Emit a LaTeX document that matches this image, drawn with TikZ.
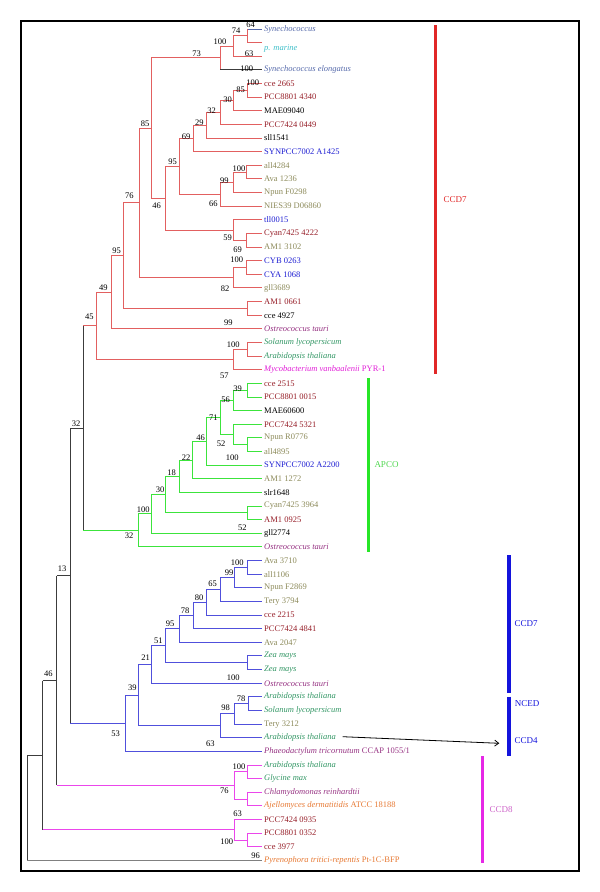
\documentclass[tikz,border=0pt]{standalone}
\usepackage{fontspec}
\setmainfont{Liberation Serif}
\usetikzlibrary{arrows.meta}
\definecolor{cRl}{RGB}{226,96,96}
\definecolor{cGl}{RGB}{60,228,60}
\definecolor{cBl}{RGB}{80,80,220}
\definecolor{cMl}{RGB}{235,70,235}
\definecolor{cK}{RGB}{60,60,60}
\definecolor{cDR}{RGB}{150,30,40}
\definecolor{cOl}{RGB}{140,138,90}
\definecolor{cBt}{RGB}{30,30,210}
\definecolor{cSl}{RGB}{85,105,170}
\definecolor{cCy}{RGB}{60,190,200}
\definecolor{cPu}{RGB}{150,50,130}
\definecolor{cGt}{RGB}{50,150,100}
\definecolor{cMt}{RGB}{225,30,215}
\definecolor{cOr}{RGB}{230,120,50}
\definecolor{cRbar}{RGB}{225,40,40}
\definecolor{cGbar}{RGB}{40,230,40}
\definecolor{cGlab}{RGB}{80,215,80}
\definecolor{cBbar}{RGB}{20,20,220}
\definecolor{cMbar}{RGB}{230,40,230}
\definecolor{cMlab}{RGB}{205,100,200}
\begin{document}
\begin{tikzpicture}[x=1pt,y=-1pt,
  lf/.style={anchor=west,inner xsep=2pt,inner ysep=0pt,font=\fontsize{8.5}{10}\selectfont},
  bs/.style={inner sep=0pt,font=\fontsize{8.5}{10}\selectfont},
  grp/.style={inner sep=0pt,font=\fontsize{9}{10}\selectfont},
  rb/.style={draw=cRl,line width=1pt},
  gb/.style={draw=cGl,line width=1pt},
  bb/.style={draw=cBl,line width=1pt},
  mb/.style={draw=cMl,line width=1pt},
  kb/.style={draw=cK,line width=0.9pt}]
\useasboundingbox (0,0) rectangle (600,892);
\draw[black,line width=1.1pt] (21,21) rectangle (579,871);
% ---------- leaves ----------
\node[lf,text=cSl,font=\fontsize{8.5}{10}\selectfont\itshape] (syn) at (262,29) {Synechococcus};
\node[lf,text=cCy,font=\fontsize{8.5}{10}\selectfont\itshape] (pmar) at (262,48.7) {p. marine};
\node[lf,text=cSl,font=\fontsize{8.5}{10}\selectfont\itshape] (syne) at (262,69.89) {Synechococcus elongatus};
\coordinate (tA) at (262,42.63);
\coordinate (t63) at (262,56.26);
\node[lf,text=cDR] (cce2665) at (262,83.52) {cce 2665};
\node[lf,text=cDR] (pcc4340) at (262,97.15) {PCC8801 4340};
\node[lf,text=black] (mae09040) at (262,110.78) {MAE09040};
\node[lf,text=cDR] (pcc0449) at (262,124.41) {PCC7424 0449};
\node[lf,text=black] (sll1541) at (262,138.04) {sll1541};
\node[lf,text=cBt] (syn1425) at (262,151.67) {SYNPCC7002 A1425};
\node[lf,text=cOl] (all4284) at (262,165.3) {all4284};
\node[lf,text=cOl] (ava1236) at (262,178.93) {Ava 1236};
\node[lf,text=cOl] (npunF0298) at (262,192.56) {Npun F0298};
\node[lf,text=cOl] (nies) at (262,206.19) {NIES39 D06860};
\node[lf,text=cBt] (tll0015) at (262,219.82) {tll0015};
\node[lf,text=cDR] (cyan4222) at (262,233.45) {Cyan7425 4222};
\node[lf,text=cOl] (am3102) at (262,247.08) {AM1 3102};
\node[lf,text=cBt] (cyb) at (262,260.71) {CYB 0263};
\node[lf,text=cBt] (cya) at (262,274.34) {CYA 1068};
\node[lf,text=cOl] (gll3689) at (262,287.97) {gll3689};
\node[lf,text=cDR] (am0661) at (262,301.6) {AM1 0661};
\node[lf,text=black] (cce4927) at (262,315.23) {cce 4927};
\node[lf,text=cPu] (ostA) at (262,328.86) {\itshape Ostreococcus tauri};
\node[lf,text=cGt] (solA) at (262,342.49) {\itshape Solanum lycopersicum};
\node[lf,text=cGt] (araA) at (262,356.12) {\itshape Arabidopsis thaliana};
\node[lf,text=cMt] (myco) at (262,369.75) {\textit{Mycobacterium vanbaalenii} PYR-1};
\node[lf,text=cDR] (cce2515) at (262,383.38) {cce 2515};
\node[lf,text=cDR] (pcc0015) at (262,397.01) {PCC8801 0015};
\node[lf,text=black] (mae60600) at (262,410.64) {MAE60600};
\node[lf,text=cDR] (pcc5321) at (262,424.27) {PCC7424 5321};
\node[lf,text=cOl] (npunR) at (262,437.9) {Npun R0776};
\node[lf,text=cOl] (all4895) at (262,451.53) {all4895};
\node[lf,text=cBt] (syn2200) at (262,465.16) {SYNPCC7002 A2200};
\node[lf,text=cOl] (am1272) at (262,478.79) {AM1 1272};
\node[lf,text=black] (slr1648) at (262,492.42) {slr1648};
\node[lf,text=cOl] (cyan3964) at (262,506.05) {Cyan7425 3964};
\node[lf,text=cDR] (am0925) at (262,519.68) {AM1 0925};
\node[lf,text=black] (gll2774) at (262,533.31) {gll2774};
\node[lf,text=cPu] (ostB) at (262,546.94) {\itshape Ostreococcus tauri};
\node[lf,text=cOl] (ava3710) at (262,560.57) {Ava 3710};
\node[lf,text=cOl] (all1106) at (262,574.2) {all1106};
\node[lf,text=cOl] (npunF2869) at (262,587.83) {Npun F2869};
\node[lf,text=cOl] (tery3794) at (262,601.46) {Tery 3794};
\node[lf,text=cDR] (cce2215) at (262,615.09) {cce 2215};
\node[lf,text=cDR] (pcc4841) at (262,628.72) {PCC7424 4841};
\node[lf,text=cOl] (ava2047) at (262,642.35) {Ava 2047};
\node[lf,text=cGt] (zea1) at (262,655.98) {\itshape Zea mays};
\node[lf,text=cGt] (zea2) at (262,669.61) {\itshape Zea mays};
\node[lf,text=cPu] (ostC) at (262,683.24) {\itshape Ostreococcus tauri};
\node[lf,text=cGt] (araB) at (262,696.87) {\itshape Arabidopsis thaliana};
\node[lf,text=cGt] (solB) at (262,710.5) {\itshape Solanum lycopersicum};
\node[lf,text=cOl] (tery3212) at (262,724.13) {Tery 3212};
\node[lf,text=cGt] (araC) at (262,737.76) {\itshape Arabidopsis thaliana};
\node[lf,text=cPu] (phaeo) at (262,751.39) {\textit{Phaeodactylum tricornutum} CCAP 1055/1};
\node[lf,text=cGt] (araD) at (262,765.02) {\itshape Arabidopsis thaliana};
\node[lf,text=cGt] (glycine) at (262,778.65) {\itshape Glycine max};
\node[lf,text=cPu] (chlamy) at (262,792.28) {\itshape Chlamydomonas reinhardtii};
\node[lf,text=cOr] (ajello) at (262,805.91) {\textit{Ajellomyces dermatitidis} ATCC 18188};
\node[lf,text=cDR] (pcc0935) at (262,819.54) {PCC7424 0935};
\node[lf,text=cDR] (pcc0352) at (262,833.17) {PCC8801 0352};
\node[lf,text=cDR] (cce3977) at (262,846.8) {cce 3977};
\node[lf,text=cOr] (pyreno) at (262,860.43) {\textit{Pyrenophora tritici-repentis} Pt-1C-BFP};
% ---------- internal nodes ----------
\coordinate (n64) at (247.7,35.82);
\coordinate (n74) at (233.7,46.04);
\coordinate (n100a) at (220,57.96);
\coordinate (n85b) at (247.7,90.34);
\coordinate (n30) at (233.7,100.56);
\coordinate (n32) at (220,112.48);
\coordinate (n29) at (206.7,125.26);
\coordinate (n69) at (193.3,138.47);
\coordinate (n100c) at (246.7,172.12);
\coordinate (n99) at (233.3,182.34);
\coordinate (n66) at (220,194.26);
\coordinate (n95) at (179.5,166.37);
\coordinate (nCy) at (246.7,240.27);
\coordinate (n59) at (233.3,230.04);
\coordinate (n46) at (165.7,198.2);
\coordinate (n73) at (151.7,128.09);
\coordinate (nCYB) at (246.7,267.53);
\coordinate (n82) at (233.3,277.75);
\coordinate (n85) at (139,202.92);
\coordinate (nAM) at (247.3,308.42);
\coordinate (n76) at (123.3,255.67);
\coordinate (n95b) at (111.7,292.26);
\coordinate (nSA) at (247.3,349.31);
\coordinate (n57) at (233.3,359.53);
\coordinate (n49) at (96.7,325.87);
\coordinate (n39) at (247.7,390.2);
\coordinate (n56) at (233.7,400.42);
\coordinate (nNA) at (247.7,444.72);
\coordinate (n52) at (233.7,434.49);
\coordinate (n71) at (220,417.46);
\coordinate (n46g) at (206.7,441.31);
\coordinate (n22) at (192.7,460.05);
\coordinate (n18) at (179,476.2);
\coordinate (nCA) at (247.7,512.87);
\coordinate (n30g) at (165,494.6);
\coordinate (n100g) at (151.7,513.95);
\coordinate (nAP) at (138.3,530.45);
\coordinate (n32top) at (83.3,428.2);
\coordinate (n100b3) at (247.3,567.39);
\coordinate (n99b) at (234,577.61);
\coordinate (n65) at (220,589.53);
\coordinate (n80) at (206.7,602.28);
\coordinate (n78) at (193.3,615.5);
\coordinate (n95b3) at (179,628.99);
\coordinate (nZea) at (247.3,662.8);
\coordinate (n51) at (165,645.89);
\coordinate (n21) at (151.7,664.57);
\coordinate (n78c) at (248.3,703.69);
\coordinate (n234) at (234,713.91);
\coordinate (n98) at (220,725.83);
\coordinate (n39b) at (138.3,695.23);
\coordinate (n53) at (125,723.31);
\coordinate (n13) at (70,575.77);
\coordinate (nAG) at (247.3,771.84);
\coordinate (nCA8) at (247.3,799.1);
\coordinate (n76c8) at (234,785.47);
\coordinate (nPC) at (247.3,839.99);
\coordinate (n63c8) at (234,829.76);
\coordinate (n46r) at (56.7,680.65);
\coordinate (nR2) at (42.7,755.21);
\coordinate (nroot) at (27,807.82);
% ---------- branches: CCD7 (red) ----------
\draw[rb] (n64) -- (n64 |- syn.west);
\draw[draw=cSl,line width=1pt] (n64 |- syn.west) -- (syn.west);
\draw[rb] (n100a) -- (n100a |- syne.west);
\draw[kb] (n100a |- syne.west) -- (syne.west);
\foreach \p/\c in {n64/tA,n74/n64,n74/t63,n100a/n74,
  n85b/cce2665.west,n85b/pcc4340.west,n30/n85b,n30/mae09040.west,
  n32/n30,n32/pcc0449.west,n29/n32,n29/sll1541.west,n69/n29,n69/syn1425.west,
  n100c/all4284.west,n100c/ava1236.west,n99/n100c,n99/npunF0298.west,
  n66/n99,n66/nies.west,n95/n69,n95/n66,
  nCy/cyan4222.west,nCy/am3102.west,n59/tll0015.west,n59/nCy,
  n46/n95,n46/n59,n73/n100a,n73/n46,
  nCYB/cyb.west,nCYB/cya.west,n82/nCYB,n82/gll3689.west,
  n85/n73,n85/n82,nAM/am0661.west,nAM/cce4927.west,n76/n85,n76/nAM,
  n95b/n76,n95b/ostA.west,nSA/solA.west,nSA/araA.west,n57/nSA,n57/myco.west,
  n49/n95b,n49/n57}
  \draw[rb] (\p) |- (\c);
% ---------- APCO (green) ----------
\foreach \p/\c in {n39/cce2515.west,n39/pcc0015.west,n56/n39,n56/mae60600.west,
  nNA/npunR.west,nNA/all4895.west,n52/pcc5321.west,n52/nNA,n71/n56,n71/n52,
  n46g/n71,n46g/syn2200.west,n22/n46g,n22/am1272.west,n18/n22,n18/slr1648.west,
  nCA/cyan3964.west,nCA/am0925.west,n30g/n18,n30g/nCA,
  n100g/n30g,n100g/gll2774.west,nAP/n100g,nAP/ostB.west}
  \draw[gb] (\p) |- (\c);
% ---------- CCD7/NCED/CCD4 (blue) ----------
\foreach \p/\c in {n100b3/ava3710.west,n100b3/all1106.west,n99b/n100b3,n99b/npunF2869.west,
  n65/n99b,n65/tery3794.west,n80/n65,n80/cce2215.west,n78/n80,n78/pcc4841.west,
  n95b3/n78,n95b3/ava2047.west,nZea/zea1.west,nZea/zea2.west,n51/n95b3,n51/nZea,
  n21/n51,n21/ostC.west,n78c/araB.west,n78c/solB.west,n234/n78c,n234/tery3212.west,
  n98/n234,n98/araC.west,n39b/n21,n39b/n98,n53/n39b,n53/phaeo.west}
  \draw[bb] (\p) |- (\c);
% ---------- CCD8 (magenta) ----------
\foreach \p/\c in {nAG/araD.west,nAG/glycine.west,nCA8/chlamy.west,nCA8/ajello.west,
  n76c8/nAG,n76c8/nCA8,nPC/pcc0352.west,nPC/cce3977.west,n63c8/pcc0935.west,n63c8/nPC}
  \draw[mb] (\p) |- (\c);
% ---------- backbone ----------
\draw[kb] (n32top |- n49) -- (n32top |- nAP);
\draw[rb] (n32top |- n49) -- (n49);
\draw[gb] (n32top |- nAP) -- (nAP);
\draw[kb] (n13 |- n32top) -- (n13 |- n53);
\draw[kb] (n13 |- n32top) -- (n32top);
\draw[bb] (n13 |- n53) -- (n53);
\draw[kb] (n46r |- n13) -- (n46r |- n76c8);
\draw[kb] (n46r |- n13) -- (n13);
\draw[mb] (n46r |- n76c8) -- (n76c8);
\draw[kb] (nR2 |- n46r) -- (nR2 |- n63c8);
\draw[kb] (nR2 |- n46r) -- (n46r);
\draw[mb] (nR2 |- n63c8) -- (n63c8);
\draw[kb] (nroot |- nR2) -- (nroot |- pyreno.west);
\draw[kb] (nroot |- nR2) -- (nR2);
\draw[draw=gray,line width=1pt] (nroot |- pyreno.west) -- (pyreno.west);
% ---------- bootstrap values ----------
\foreach \x/\y/\t in {250.7/25/64,236/31/74,220/41.7/100,249/54/63,196.7/54/73,246.7/68.3/100,
  252.7/82.7/100,240.7/90/85,227.7/100/30,211.7/111/32,199.3/122.7/29,186/136.7/69,
  145/123.7/85,172.7/162/95,239/168.3/100,224.3/180.7/99,213.3/203.3/66,156.7/205.7/46,
  227.7/237.3/59,237.7/249.3/69,236.7/260/100,225/288.5/82,129.3/196/76,116.7/250.7/95,
  103.3/287.3/49,89.3/316.7/45,228.3/322.7/99,233.3/345/100,224.3/375.5/57,
  237.7/388.3/39,225.7/400/56,213.3/417.7/71,221/444/52,200.7/437.3/46,232.3/457.3/100,
  186/457.3/22,171.7/472.3/18,160/489.3/30,143.3/510/100,242.3/527.3/52,129/535.7/32,
  76/423.3/32,62/568.3/13,
  237.3/562.7/100,229/572.7/99,212.7/584/65,199/597.3/80,185/610.7/78,170/624/95,
  158.3/640.7/51,145.7/657.3/21,233.3/677.3/100,132.3/687.7/39,241/698.3/78,
  225.7/707.7/98,115.7/734/53,210.3/744/63,48.3/673.3/46,
  239/766.7/100,224.3/791/76,237.7/813.3/63,226.7/841.7/100,255.7/855.7/96}
  \node[bs] at (\x,\y) {\t};
% ---------- group bars ----------
\draw[cRbar,line width=3pt] (435.7,25) -- (435.7,374);
\node[grp,text=cRbar] (lCCD7a) at (455,200) {CCD7};
\draw[cGbar,line width=3.3pt] (368.3,378.3) -- (368.3,551.7);
\node[grp,text=cGlab] (lAPCO) at (386.5,465) {APCO};
\draw[cBbar,line width=4pt] (509,555) -- (509,692.7);
\draw[cBbar,line width=4pt] (509,696.7) -- (509,755.7);
\node[grp,text=cBbar] (lCCD7b) at (526,623.3) {CCD7};
\node[grp,text=cBbar] (lNCED) at (527,703.3) {NCED};
\node[grp,text=cBbar] (lCCD4) at (526,741) {CCD4};
\draw[cMbar,line width=3.5pt] (482.7,756) -- (482.7,862.7);
\node[grp,text=cMlab] (lCCD8) at (501,809.3) {CCD8};
% ---------- arrow ----------
\coordinate (arS) at (342.7,736.7);
\coordinate (arE) at (499.3,743.3);
\draw[black,line width=0.8pt,-{Straight Barb[length=4pt,width=6pt]}] (arS) -- (arE);
\end{tikzpicture}
\end{document}
